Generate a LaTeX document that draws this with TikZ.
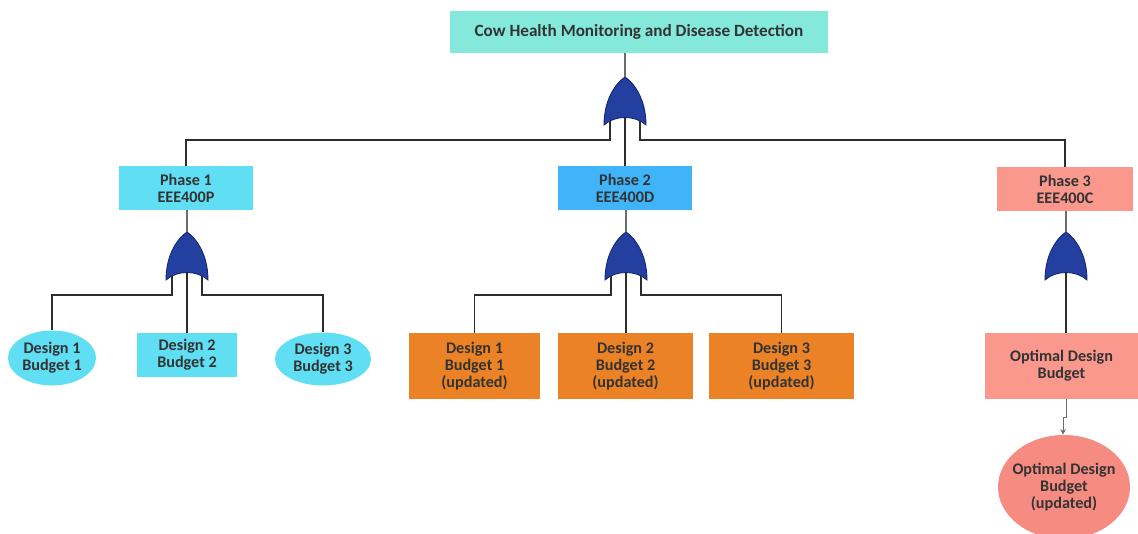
\documentclass[tikz,border=0pt]{standalone}
\usepackage{fontspec}
\setmainfont{Carlito}
\usetikzlibrary{arrows.meta,shapes.geometric}

\definecolor{titlefill}{RGB}{132,233,219}
\definecolor{cyanfill}{RGB}{95,222,244}
\definecolor{bluefill}{RGB}{64,180,248}
\definecolor{salmonfill}{RGB}{250,152,141}
\definecolor{roundsalmon}{RGB}{246,139,130}
\definecolor{orangefill}{RGB}{236,130,38}
\definecolor{gatefill}{RGB}{35,64,160}
\definecolor{gateline}{RGB}{20,38,110}
\definecolor{textgray}{RGB}{51,51,51}
\definecolor{wire}{RGB}{45,45,45}

\tikzset{
  box/.style={draw=none, text=textgray, align=center, inner sep=0pt,
    font=\bfseries\fontsize{11.5}{12.2}\selectfont},
  ellbox/.style={box, ellipse},
  leg/.style={draw=wire, line width=1.3pt},
  link/.style={draw=gray!85!black, line width=0.8pt},
  orgate/.pic={
    \filldraw[fill=gatefill, draw=gateline, line width=0.6pt]
      (-21,48) .. controls (-21,22) and (-9,6) .. (0,0)
      .. controls (9,6) and (21,22) .. (21,48)
      .. controls (10,38) and (-10,38) .. cycle;
    \coordinate (-top) at (0,0);
    \coordinate (-m) at (0,41);
    \coordinate (-l) at (-15,44);
    \coordinate (-r) at (15,44);
    \coordinate (-bl) at (-15,63);
    \coordinate (-br) at (15,63);
  }
}

\begin{document}
\begin{tikzpicture}[x=0.025cm, y=-0.025cm]
  \useasboundingbox (0,0) rectangle (1138,533);

  % top event and phases
  \node[box, fill=titlefill, minimum width=9.425cm, minimum height=1.05cm,
        font=\bfseries\fontsize{12.2}{13}\selectfont] (top) at (639,32)
        {Cow Health Monitoring and Disease Detection};
  \node[box, fill=cyanfill, minimum width=3.325cm, minimum height=1.075cm] (ph1) at (186,188) {Phase 1\\EEE400P};
  \node[box, fill=bluefill, minimum width=3.325cm, minimum height=1.075cm] (ph2) at (625,188) {Phase 2\\EEE400D};
  \node[box, fill=salmonfill, minimum width=3.375cm, minimum height=1.075cm] (ph3) at (1065,189) {Phase 3\\EEE400C};

  % phase 1 designs
  \node[ellbox, fill=cyanfill, minimum width=2.2cm, minimum height=1.375cm] (d11) at (52,358) {Design 1\\Budget 1};
  \node[box, fill=cyanfill, minimum width=2.5cm, minimum height=1.1cm] (d12) at (187,355) {Design 2\\Budget 2};
  \node[ellbox, fill=cyanfill, minimum width=2.4cm, minimum height=1.325cm] (d13) at (323,359) {Design 3\\Budget 3};

  % phase 2 designs
  \node[box, fill=orangefill, minimum width=3.25cm, minimum height=1.65cm] (d21) at (474.5,366) {Design 1\\Budget 1\\(updated)};
  \node[box, fill=orangefill, minimum width=3.375cm, minimum height=1.65cm] (d22) at (625.5,366) {Design 2\\Budget 2\\(updated)};
  \node[box, fill=orangefill, minimum width=3.625cm, minimum height=1.65cm] (d23) at (781.5,366) {Design 3\\Budget 3\\(updated)};

  % phase 3 result
  \node[box, fill=salmonfill, minimum width=3.825cm, minimum height=1.65cm] (opt) at (1061.5,366) {Optimal Design\\Budget};
  \node[ellbox, fill=roundsalmon, inner xsep=-5pt, minimum width=3.3cm, minimum height=2.6cm] (optu) at (1064,487) {Optimal Design\\Budget\\(updated)};

  % gates
  \pic (g0) at (625,77) {orgate};
  \pic (g1) at (187,232) {orgate};
  \pic (g2) at (626,232) {orgate};
  \pic (g3) at (1066,232) {orgate};

  % top level
  \draw[link] (top.south -| g0-top) -- (g0-top);
  \draw[leg] (g0-l) -- (g0-bl) -| (ph1);
  \draw[leg] (g0-m) -- (ph2);
  \draw[leg] (g0-r) -- (g0-br) -| (ph3);

  % phase 1
  \draw[link] (ph1.south -| g1-top) -- (g1-top);
  \draw[leg] (g1-l) -- (g1-bl) -| (d11);
  \draw[leg] (g1-m) -- (d12);
  \draw[leg] (g1-r) -- (g1-br) -| (d13);

  % phase 2
  \draw[link] (ph2.south -| g2-top) -- (g2-top);
  \draw[leg] (g2-l) -- (g2-bl) -| (d21);
  \draw[leg] (g2-m) -- (g2-m |- d22.north);
  \draw[leg] (g2-r) -- (g2-br) -| (d23);

  % phase 3
  \draw[link] (ph3.south -| g3-top) -- (g3-top);
  \draw[leg] (g3-m) -- (g3-m |- opt.north);
  \coordinate (jog) at (1066,417);
  \coordinate (jog2) at (1063,417);
  \draw[link, line width=0.6pt, -{Stealth[length=4pt,width=4pt]}]
    (opt.south -| jog) -- (jog) -- (jog2) -- (jog2 |- optu.north);
\end{tikzpicture}
\end{document}
